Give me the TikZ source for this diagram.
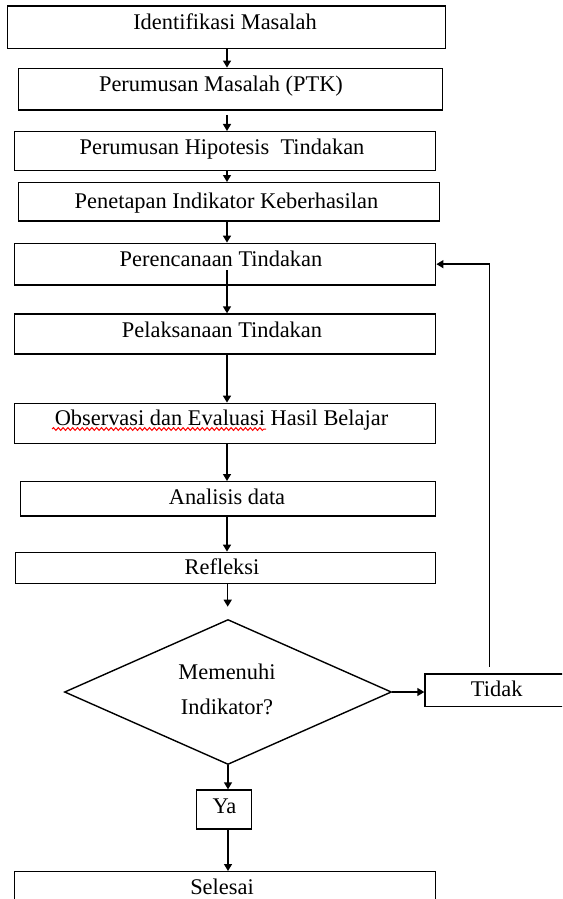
\documentclass[tikz,border=0pt]{standalone}
\usepackage{fontspec}
\setmainfont{Liberation Serif}
\usetikzlibrary{arrows.meta,shapes.geometric,fit,decorations.pathmorphing}
\begin{document}
\begin{tikzpicture}[x=0.5pt,y=-0.5pt,
  box/.style={draw=black,line width=0.7pt,inner sep=0pt},
  txt/.style={font=\fontsize{11.2pt}{13pt}\selectfont,anchor=base,inner sep=0pt},
  arr/.style={draw=black,line width=0.7pt,-{Triangle[length=3.5pt,width=4pt]}},
  squig/.style={draw=red,line width=0.5pt,decorate,decoration={snake,amplitude=0.7pt,segment length=2.4pt}}]
\useasboundingbox (0,0) rectangle (562,899);
\clip (0,0) rectangle (562,899);
\coordinate (ax) at (227,0);
% boxes
\node[box,fit={(7.3,6)(445.7,48.3)}] (b1) {};
\node[box,fit={(18.3,68.3)(442.3,110)}] (b2) {};
\node[box,fit={(14.3,131.7)(435.7,170.7)}] (b3) {};
\node[box,fit={(18.3,182.7)(439.7,221)}] (b4) {};
\node[box,fit={(14.3,243.3)(435.7,285)}] (b5) {};
\node[box,fit={(14.3,314)(435.7,354)}] (b6) {};
\node[box,fit={(14.3,403.3)(435.7,443.3)}] (b7) {};
\node[box,fit={(20.7,481.7)(435.7,516)}] (b8) {};
\node[box,fit={(15.7,552.3)(435.7,583.3)}] (b9) {};
\node[diamond,draw=black,line width=0.7pt,inner sep=0pt,minimum width=163.5pt,minimum height=72.5pt] (d) at (228,692) {};
\node[box,fit={(425,674)(575,706.7)}] (tb) {};
\node[box,fit={(196.7,790)(251.7,829)}] (ya) {};
\node[box,fit={(14.3,871.7)(435.7,930)}] (sel) {};
% texts
\node[txt] (t1) at (225,29.7) {Identifikasi Masalah};
\node[txt] (t2) at (221,92) {Perumusan Masalah (PTK)};
\node[txt] (t3) at (222,154.7) {Perumusan Hipotesis\ \ Tindakan};
\node[txt] (t4) at (226.5,208) {Penetapan Indikator Keberhasilan};
\node[txt] (t5) at (221,266.3) {Perencanaan Tindakan};
\node[txt] (t6) at (222,337.3) {Pelaksanaan Tindakan};
\node[txt] (t7) at (221.5,425.3) {Observasi dan Evaluasi Hasil Belajar};
\node[txt] (t8) at (227,504) {Analisis data};
\node[txt] (t9) at (222,574.7) {Refleksi};
\node[txt] (m1) at (227,679.7) {Memenuhi};
\node[txt] (m2) at (227,714) {Indikator?};
\node[txt] (tt) at (496.7,696.3) {Tidak};
\node[txt] (ty) at (224.5,813) {Ya};
\node[txt] (ts) at (222,894.7) {Selesai};
% spell-check underline
\draw[squig] (52,429) -- (266,429);
% connectors
\coordinate (a2s) at (227,115);
\coordinate (a5s) at (227,270);
\coordinate (a9e) at (227.7,606.7);
\coordinate (fb) at (489.3,666.7);
\draw[arr] (b1.south -| ax) -- (b2.north -| ax);
\draw[arr] (a2s) -- (b3.north -| ax);
\draw[arr] (b3.south -| ax) -- (b4.north -| ax);
\draw[arr] (b4.south -| ax) -- (b5.north -| ax);
\draw[arr] (a5s) -- (b6.north -| ax);
\draw[arr] (b6.south -| ax) -- (b7.north -| ax);
\draw[arr] (b7.south -| ax) -- (b8.north -| ax);
\draw[arr] (b8.south -| ax) -- (b9.north -| ax);
\draw[arr] (b9.south -| a9e) -- (a9e);
\draw[arr] (d.south) -- (ya.north -| d.south);
\draw[arr] (ya.south -| d.south) -- (sel.north -| d.south);
\draw[arr] (d.east) -- (tb.west |- d.east);
\draw[arr] (fb) |- (b5.east);
\end{tikzpicture}
\end{document}
